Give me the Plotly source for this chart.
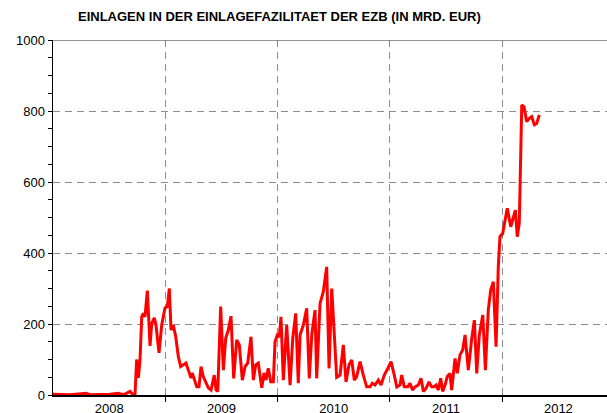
import plotly.graph_objects as go

# time in decimal years, value in Mrd. EUR
t_years = [
    2008.000, 2008.151, 2008.294, 2008.329, 2008.508, 2008.579, 2008.632, 2008.686, 2008.712, 2008.730,
    2008.745, 2008.760, 2008.775, 2008.790, 2008.804, 2008.819, 2008.840, 2008.864, 2008.879, 2008.902,
    2008.917, 2008.944, 2008.968, 2008.997, 2009.018, 2009.036, 2009.051, 2009.071, 2009.093, 2009.116,
    2009.137, 2009.160, 2009.184, 2009.205, 2009.229, 2009.240, 2009.258, 2009.280, 2009.300, 2009.318,
    2009.338, 2009.360, 2009.383, 2009.407, 2009.436, 2009.452, 2009.467, 2009.493, 2009.517, 2009.538,
    2009.561, 2009.585, 2009.609, 2009.636, 2009.659, 2009.686, 2009.710, 2009.734, 2009.763, 2009.784,
    2009.805, 2009.828, 2009.859, 2009.879, 2009.897, 2009.917, 2009.939, 2009.962, 2009.977, 2009.997,
    2010.015, 2010.030, 2010.051, 2010.081, 2010.111, 2010.135, 2010.161, 2010.184, 2010.200, 2010.229,
    2010.259, 2010.282, 2010.304, 2010.333, 2010.348, 2010.378, 2010.407, 2010.437, 2010.458, 2010.482,
    2010.526, 2010.556, 2010.585, 2010.609, 2010.636, 2010.660, 2010.683, 2010.704, 2010.734, 2010.763,
    2010.793, 2010.823, 2010.843, 2010.867, 2010.897, 2010.921, 2010.950, 2010.981, 2011.010, 2011.039,
    2011.061, 2011.090, 2011.105, 2011.128, 2011.159, 2011.179, 2011.201, 2011.224, 2011.253, 2011.277,
    2011.298, 2011.322, 2011.348, 2011.372, 2011.393, 2011.411, 2011.431, 2011.452, 2011.470, 2011.491,
    2011.511, 2011.535, 2011.550, 2011.580, 2011.600, 2011.624, 2011.648, 2011.669, 2011.698, 2011.729,
    2011.752, 2011.773, 2011.796, 2011.827, 2011.850, 2011.876, 2011.898, 2011.921, 2011.945, 2011.965,
    2011.980, 2012.004, 2012.025, 2012.045, 2012.076, 2012.094, 2012.117, 2012.134, 2012.152, 2012.174,
    2012.194, 2012.218, 2012.241, 2012.263, 2012.286, 2012.307, 2012.330,
]
einlagen = [
    2, 1, 5, 1, 2, 5, 1, 10, 1, 0,
    100, 48, 100, 220, 230, 220, 294, 138, 202, 217,
    197, 119, 197, 245, 249, 300, 183, 197, 164, 108,
    80, 85, 90, 70, 48, 62, 42, 23, 23, 80,
    52, 34, 20, 14, 56, 14, 10, 249, 70, 160,
    183, 222, 47, 155, 141, 42, 80, 90, 164, 42,
    85, 90, 20, 62, 42, 75, 37, 37, 150, 169,
    164, 220, 42, 197, 28, 160, 230, 33, 169, 197,
    244, 47, 169, 239, 47, 258, 291, 361, 75, 300,
    50, 56, 141, 37, 85, 99, 42, 52, 94, 56,
    23, 23, 33, 28, 42, 28, 56, 75, 94, 56,
    23, 28, 56, 23, 23, 33, 14, 23, 28, 47,
    10, 19, 37, 23, 23, 28, 14, 47, 10, 28,
    52, 61, 14, 103, 61, 113, 127, 169, 70, 160,
    211, 61, 169, 225, 70, 240, 296, 319, 136, 361,
    446, 455, 493, 526, 474, 493, 521, 446, 484, 817,
    812, 770, 779, 784, 761, 765, 789,
]
years = [2008, 2009, 2010, 2011, 2012]
y_ticks = [0, 200, 400, 600, 800, 1000]
title_text = "EINLAGEN IN DER EINLAGEFAZILITAET DER EZB (IN MRD. EUR)"

x_end = 2012.933

fig = go.Figure()
fig.add_trace(go.Scatter(
    x=t_years, y=einlagen, mode="lines",
    line=dict(color="#ff0000", width=3),
    showlegend=False, hoverinfo="skip",
))

fig.update_layout(
    width=607, height=413,
    margin=dict(l=53, r=0, t=40, b=18, autoexpand=False),
    paper_bgcolor="white", plot_bgcolor="white",
    font=dict(family="Liberation Sans, Arial, sans-serif", color="black", size=13),
)

fig.add_annotation(
    text="<b>" + title_text + "</b>", xref="paper", yref="paper",
    x=0.408, y=1.065, xanchor="center", yanchor="middle", showarrow=False,
    font=dict(size=13, family="Liberation Sans, Arial, sans-serif", color="black"),
)

fig.update_xaxes(
    range=[2008, x_end], automargin=False,
    tickvals=[y + 0.5 for y in years],
    ticktext=[str(y) for y in years],
    ticks="", showgrid=False, zeroline=False,
    showline=True, linecolor="black", linewidth=2,
    tickfont=dict(size=13),
    minor=dict(tickvals=years[1:], ticks="outside", ticklen=5, tickcolor="black",
               tickwidth=1, showgrid=True, gridcolor="#8c8c8c", griddash="7px,5px",
               gridwidth=1),
)
fig.update_yaxes(
    range=[0, 1000], automargin=False,
    tickvals=y_ticks,
    ticks="outside", ticklen=4, tickcolor="black", tickwidth=1,
    showgrid=True, gridcolor="#8c8c8c", griddash="7px,5px", gridwidth=1,
    zeroline=False, showline=True, linecolor="black", linewidth=1.5,
    tickfont=dict(size=13),
    minor=dict(dtick=50, ticks="outside", ticklen=4, tickcolor="black", showgrid=False),
)

fig.add_shape(type="line", xref="paper", yref="y", x0=0, x1=1, y0=1000, y1=1000,
              line=dict(color="#707070", width=1.5))

fig.write_html(
    "out.html",
    config={"displayModeBar": False, "staticPlot": True},
    post_script="document.body.style.margin='0';document.body.style.overflow='hidden';",
)
